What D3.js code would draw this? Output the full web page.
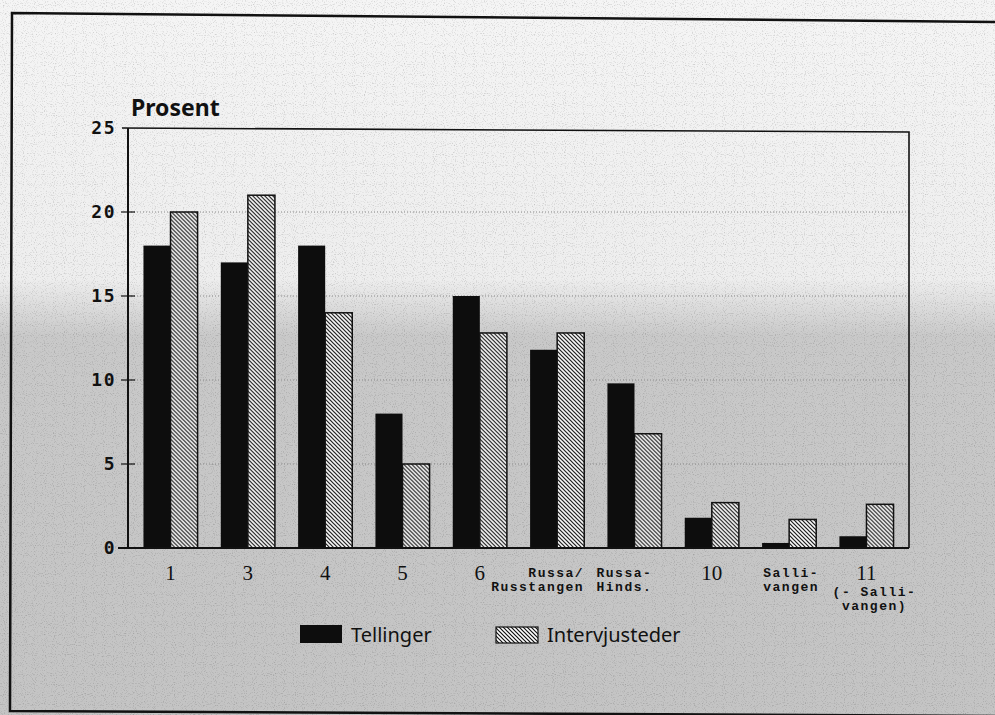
<!DOCTYPE html>
<html>
<head>
<meta charset="utf-8">
<script src="https://cdn.jsdelivr.net/npm/d3@7"></script>
<style>
  body { margin: 0; background: #fff; }
  svg { display: block; }
</style>
</head>
<body>
<script>
// data
const categories = ["1", "3", "4", "5", "6", "Russa/ Russtangen", "Russa- Hinds.", "10", "Salli- vangen", "11 (- Salli- vangen)"];
// label lines under each group: first a big serif number (if any), then small mono lines
const bigLabels = ["1", "3", "4", "5", "6", "", "", "10", "", "11"];
const smallLabels = [[], [], [], [], [], ["Russa/", "Russtangen"], ["Russa-", "Hinds."], [], ["Salli-", "vangen"], ["(- Salli-", "vangen)"]];
const tellinger = [18, 17, 18, 8, 15, 11.8, 9.8, 1.8, 0.3, 0.7];
const intervjusteder = [20, 21, 14, 5, 12.8, 12.8, 6.8, 2.7, 1.7, 2.6];
const series = ["Tellinger", "Intervjusteder"];
const yTicks = [0, 5, 10, 15, 20, 25];

const width = 995;
const height = 715;

// plot box
const plotLeft = 128, plotRight = 909, plotTop = 128, plotBottom = 548;

const svg = d3.select("body").append("svg")
  .attr("width", width)
  .attr("height", height);

const defs = svg.append("defs");

// scanned paper: light on top, grey halftone further down
const grad = defs.append("linearGradient")
  .attr("id", "paper")
  .attr("x1", 0).attr("y1", 0).attr("x2", 0).attr("y2", 1);
grad.append("stop").attr("offset", 0).attr("stop-color", "#f5f5f5");
grad.append("stop").attr("offset", 0.39).attr("stop-color", "#eeeeee");
grad.append("stop").attr("offset", 0.47).attr("stop-color", "#c9c9c9");
grad.append("stop").attr("offset", 1).attr("stop-color", "#c4c4c4");

// grain of the scan
const grain = defs.append("filter").attr("id", "grain")
  .attr("x", 0).attr("y", 0).attr("width", "100%").attr("height", "100%");
grain.append("feTurbulence")
  .attr("type", "fractalNoise")
  .attr("baseFrequency", 0.9)
  .attr("numOctaves", 1)
  .attr("seed", 3);
grain.append("feColorMatrix")
  .attr("type", "matrix")
  .attr("values", "0 0 0 0 0  0 0 0 0 0  0 0 0 0 0  0 0 0 -1.6 0.75");

// diagonal hatching
const hatch = defs.append("pattern")
  .attr("id", "hatch")
  .attr("patternUnits", "userSpaceOnUse")
  .attr("width", 4)
  .attr("height", 4);
hatch.append("rect").attr("width", 4).attr("height", 4).attr("fill", "#fff");
hatch.append("path")
  .attr("d", "M-1,-1 L5,5 M-1,3 L1,5 M3,-1 L5,1")
  .attr("stroke", "#111")
  .attr("stroke-width", 1.2);

svg.append("rect")
  .attr("width", width)
  .attr("height", height)
  .attr("fill", "url(#paper)");

svg.append("rect")
  .attr("width", width)
  .attr("height", height)
  .attr("filter", "url(#grain)")
  .attr("opacity", 0.35);

// outer frame of the page figure (slightly skewed in the scan)
svg.append("path")
  .attr("d", "M997,22 L12,13 L10,711 L997,716")
  .attr("fill", "none")
  .attr("stroke", "#111")
  .attr("stroke-width", 2.5);

// scales
const x = d3.scaleBand()
  .domain(categories)
  .range([plotLeft, plotRight])
  .paddingInner(0.3)
  .paddingOuter(0.2);

const xs = d3.scaleBand()
  .domain(series)
  .range([0, x.bandwidth()]);

const y = d3.scaleLinear()
  .domain([0, 25])
  .range([plotBottom, plotTop]);

// dotted grid lines
svg.append("g")
  .selectAll("line")
  .data(yTicks.filter(d => d > 0 && d < 25))
  .join("line")
  .attr("x1", plotLeft)
  .attr("x2", plotRight)
  .attr("y1", d => y(d))
  .attr("y2", d => y(d))
  .attr("stroke", "#888")
  .attr("stroke-width", 1)
  .attr("stroke-dasharray", "1,2");

// bars
const groups = svg.append("g")
  .selectAll("g")
  .data(categories)
  .join("g")
  .attr("transform", d => "translate(" + x(d) + ",0)");

groups.append("rect")
  .attr("x", xs("Tellinger"))
  .attr("width", xs.bandwidth())
  .attr("y", (d, i) => y(tellinger[i]))
  .attr("height", (d, i) => y(0) - y(tellinger[i]))
  .attr("fill", "#0d0d0d");

groups.append("rect")
  .attr("x", xs("Intervjusteder"))
  .attr("width", xs.bandwidth())
  .attr("y", (d, i) => y(intervjusteder[i]))
  .attr("height", (d, i) => y(0) - y(intervjusteder[i]))
  .attr("fill", "url(#hatch)")
  .attr("stroke", "#111")
  .attr("stroke-width", 1.5);

// plot box: top and right thin, left and bottom axis lines
svg.append("path")
  .attr("d", "M" + (plotLeft - 6) + "," + plotTop + " L" + plotRight + "," + (plotTop + 4) + " L" + plotRight + "," + plotBottom)
  .attr("fill", "none")
  .attr("stroke", "#111")
  .attr("stroke-width", 1.6);

svg.append("line")
  .attr("x1", plotLeft).attr("x2", plotLeft)
  .attr("y1", plotTop).attr("y2", plotBottom)
  .attr("stroke", "#111")
  .attr("stroke-width", 2);

svg.append("line")
  .attr("x1", plotLeft - 10).attr("x2", plotRight)
  .attr("y1", plotBottom).attr("y2", plotBottom)
  .attr("stroke", "#111")
  .attr("stroke-width", 2.2);

// y axis ticks and labels
const yAxis = svg.append("g");
yAxis.selectAll("line")
  .data(yTicks.filter(d => d > 0 && d < 25))
  .join("line")
  .attr("x1", plotLeft - 7)
  .attr("x2", plotLeft + 7)
  .attr("y1", d => y(d))
  .attr("y2", d => y(d))
  .attr("stroke", "#111")
  .attr("stroke-width", 1.2);

yAxis.selectAll("text")
  .data(yTicks)
  .join("text")
  .attr("x", plotLeft - 12)
  .attr("y", d => y(d))
  .attr("dy", "0.36em")
  .attr("text-anchor", "end")
  .attr("font-family", "'DejaVu Sans Mono', monospace")
  .attr("font-weight", "bold")
  .attr("font-size", 18)
  .attr("letter-spacing", 1.5)
  .attr("fill", "#111")
  .text(d => d);

svg.append("text")
  .attr("x", plotLeft + 3)
  .attr("y", plotTop - 12)
  .attr("font-family", "'Noto Sans', sans-serif")
  .attr("font-weight", "bold")
  .attr("font-size", 23)
  .attr("fill", "#111")
  .text("Prosent");

// x labels
const xLab = svg.append("g")
  .selectAll("g")
  .data(categories)
  .join("g")
  .attr("transform", d => "translate(" + (x(d) + x.bandwidth() / 2) + ",0)");

xLab.append("text")
  .attr("y", 580)
  .attr("text-anchor", "middle")
  .attr("font-family", "'Liberation Serif', serif")
  .attr("font-size", 21)
  .attr("fill", "#111")
  .text((d, i) => bigLabels[i]);

// small mono labels; the two Russa labels are pushed towards each other
const smallAnchor = (i) => i === 5 ? "end" : (i === 6 ? "start" : "middle");
const smallShift = (i) => i === 5 ? 27 : (i === 6 ? -38 : (i === 9 ? 8 : 2));
const smallStart = (i) => bigLabels[i] ? 596 : 577;

xLab.each(function (d, i) {
  d3.select(this).selectAll("text.small")
    .data(smallLabels[i])
    .join("text")
    .attr("class", "small")
    .attr("x", smallShift(i))
    .attr("y", (t, j) => smallStart(i) + j * 14)
    .attr("text-anchor", smallAnchor(i))
    .attr("font-family", "'Liberation Mono', monospace")
    .attr("font-weight", "bold")
    .attr("font-size", 13)
    .attr("letter-spacing", 1.5)
    .attr("fill", "#111")
    .text(t => t);
});

// legend
const legend = svg.append("g");
const legendX = [300, 496];
const legendFill = ["#0d0d0d", "url(#hatch)"];

legend.selectAll("rect")
  .data(series)
  .join("rect")
  .attr("x", (d, i) => legendX[i])
  .attr("y", (d, i) => i === 0 ? 625 : 627)
  .attr("width", 42)
  .attr("height", (d, i) => i === 0 ? 18 : 16)
  .attr("fill", (d, i) => legendFill[i])
  .attr("stroke", (d, i) => i === 0 ? "none" : "#111")
  .attr("stroke-width", 1.2);

legend.selectAll("text")
  .data(series)
  .join("text")
  .attr("x", (d, i) => legendX[i] + 51)
  .attr("y", 642)
  .attr("font-family", "'Noto Sans', sans-serif")
  .attr("font-size", 20)
  .attr("fill", "#111")
  .text(d => d);
</script>
</body>
</html>
